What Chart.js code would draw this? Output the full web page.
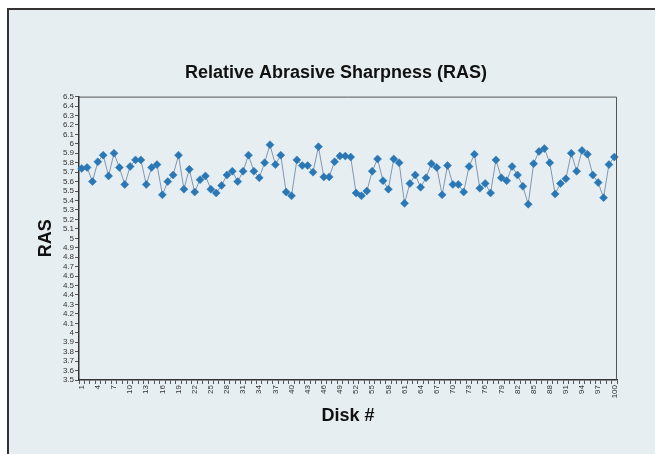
<!DOCTYPE html>
<html>
<head>
<meta charset="utf-8">
<script src="https://cdn.jsdelivr.net/npm/chart.js@4/dist/chart.umd.min.js"></script>
<style>
	html, body { margin: 0; padding: 0; background: #ffffff; overflow: hidden; }
	#frame {
		position: absolute; left: 7px; top: 8px; width: 660px; height: 460px;
		background: #e6eef1; border-left: 2px solid #333; border-top: 2px solid #333;
	}
	#chart { position: absolute; left: 0; top: 0; }
</style>
</head>
<body>
<div id="frame"></div>
<canvas id="chart" width="655" height="454"></canvas>
<script>
// Disk numbers (categories)
const disks = [
	1, 2, 3, 4, 5, 6, 7, 8, 9, 10, 11, 12, 13, 14, 15, 16, 17, 18, 19, 20,
	21, 22, 23, 24, 25, 26, 27, 28, 29, 30, 31, 32, 33, 34, 35, 36, 37, 38, 39, 40,
	41, 42, 43, 44, 45, 46, 47, 48, 49, 50, 51, 52, 53, 54, 55, 56, 57, 58, 59, 60,
	61, 62, 63, 64, 65, 66, 67, 68, 69, 70, 71, 72, 73, 74, 75, 76, 77, 78, 79, 80,
	81, 82, 83, 84, 85, 86, 87, 88, 89, 90, 91, 92, 93, 94, 95, 96, 97, 98, 99, 100
];
// RAS value per disk
const ras = [
	5.74, 5.75, 5.60, 5.81, 5.88, 5.66, 5.90, 5.75, 5.57, 5.76, 5.83, 5.83, 5.57, 5.75, 5.78, 5.46, 5.60, 5.67, 5.88, 5.52,
	5.73, 5.49, 5.62, 5.66, 5.52, 5.48, 5.56, 5.67, 5.71, 5.60, 5.71, 5.88, 5.71, 5.64, 5.80, 5.99, 5.78, 5.88, 5.49, 5.45,
	5.83, 5.77, 5.77, 5.70, 5.97, 5.65, 5.65, 5.81, 5.87, 5.87, 5.86, 5.48, 5.45, 5.50, 5.71, 5.84, 5.61, 5.52, 5.84, 5.80,
	5.37, 5.58, 5.67, 5.54, 5.64, 5.79, 5.75, 5.46, 5.77, 5.57, 5.57, 5.49, 5.76, 5.89, 5.53, 5.58, 5.48, 5.83, 5.64, 5.61,
	5.76, 5.67, 5.55, 5.36, 5.79, 5.92, 5.95, 5.80, 5.47, 5.58, 5.63, 5.90, 5.71, 5.93, 5.89, 5.67, 5.59, 5.43, 5.78, 5.86
];
// x labels shown on the axis
const xTickLabels = [1, 4, 7, 10, 13, 16, 19, 22, 25, 28, 31, 34, 37, 40, 43, 46, 49, 52, 55, 58, 61, 64, 67, 70, 73, 76, 79, 82, 85, 88, 91, 94, 97, 100];
const yMin = 3.5;
const yMax = 6.5;
const yStep = 0.1;

const FONT = "'Liberation Sans', Arial, sans-serif";

// top and right edge of the plot area
const plotBorder = {
	id: 'plotBorder',
	afterDraw(chart) {
		const a = chart.chartArea;
		const ctx = chart.ctx;
		ctx.save();
		ctx.strokeStyle = '#555';
		ctx.lineWidth = 1;
		ctx.beginPath();
		ctx.moveTo(a.left, a.top + 0.5);
		ctx.lineTo(a.right - 0.5, a.top + 0.5);
		ctx.lineTo(a.right - 0.5, a.bottom);
		ctx.stroke();
		ctx.restore();
	}
};

let chart = new Chart(document.getElementById('chart'), {
	type: 'line',
	data: {
		labels: disks,
		datasets: [{
			label: 'RAS',
			data: ras,
			borderColor: '#7f97b3',
			borderWidth: 1,
			tension: 0,
			pointStyle: 'rectRot',
			pointRadius: 4,
			pointBackgroundColor: '#2a77b5',
			pointBorderColor: '#2a77b5',
			pointBorderWidth: 0.5
		}]
	},
	options: {
		responsive: false,
		animation: false,
		devicePixelRatio: 1,
		layout: {
			padding: { left: 55, right: 38, top: 0, bottom: 25 }
		},
		plugins: {
			legend: { display: false },
			tooltip: { enabled: false },
			title: {
				display: true,
				text: 'Relative Abrasive Sharpness (RAS)',
				color: '#111',
				font: { family: FONT, size: 18, weight: 'bold' },
				padding: { top: 62, bottom: 13 }
			}
		},
		scales: {
			x: {
				offset: true,
				grid: { display: true, drawOnChartArea: false, offset: true, tickLength: 4, color: '#555' },
				border: { display: true, color: '#333', width: 1.5 },
				ticks: {
					autoSkip: false,
					minRotation: 90,
					maxRotation: 90,
					padding: 1,
					color: '#333',
					font: { family: FONT, size: 8 },
					callback: function(val, i) {
						return xTickLabels.indexOf(disks[i]) != -1 ? String(disks[i]) : '';
					}
				},
				title: {
					display: true,
					text: 'Disk #',
					color: '#111',
					font: { family: FONT, size: 18, weight: 'bold' },
					padding: { top: 0, bottom: 2 }
				},
				afterFit: function(scale) { scale.height = 49; }
			},
			y: {
				min: yMin,
				max: yMax,
				grid: { display: true, drawOnChartArea: false, tickLength: 4, color: '#555' },
				border: { display: true, color: '#333', width: 1.5 },
				ticks: {
					stepSize: yStep,
					autoSkip: false,
					padding: 1,
					color: '#333',
					font: { family: FONT, size: 8 },
					callback: function(v) { return String(Math.round(v * 10) / 10); }
				},
				title: {
					display: true,
					text: 'RAS',
					color: '#111',
					font: { family: FONT, size: 18, weight: 'bold' },
					padding: { top: -20, bottom: 0 }
				},
				afterFit: function(scale) { scale.width = 24; }
			}
		}
	},
	plugins: [plotBorder]
});
</script>
</body>
</html>
